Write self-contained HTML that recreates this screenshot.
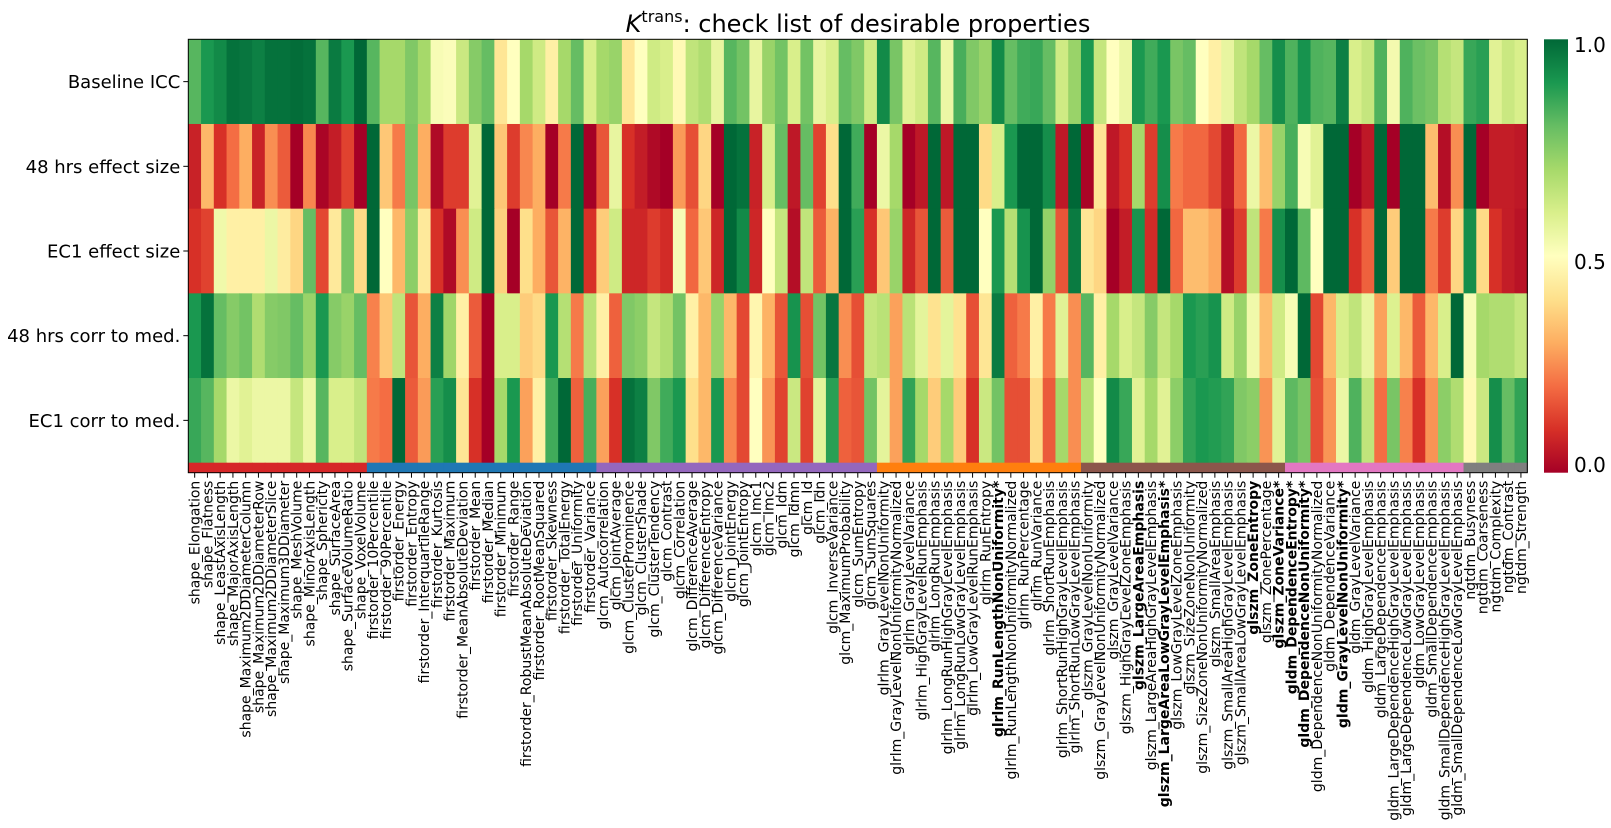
<!DOCTYPE html>
<html><head><meta charset="utf-8">
<style>
html,body{margin:0;padding:0;background:#fff;}
svg{display:block;font-family:"DejaVu Sans","Liberation Sans",sans-serif;}
</style></head>
<body>
<svg id="chart" width="1611" height="828" viewBox="0 0 1611 828" xmlns="http://www.w3.org/2000/svg">
<text x="858" y="32" font-size="24" text-anchor="middle"><tspan font-style="italic">K</tspan><tspan font-size="16" dy="-10">trans</tspan><tspan dy="10">: check list of desirable properties</tspan></text>
<g id="cells"></g>
<g id="strip"></g>
<g id="xlabels"></g>
<g id="ylabels"></g>
<rect x="188.3" y="39.3" width="1339" height="433.4" fill="none" stroke="#000" stroke-width="1"/>
<defs><linearGradient id="cbg" x1="0" y1="1" x2="0" y2="0"></linearGradient></defs>
<rect x="1544" y="39.3" width="24" height="433.4" fill="url(#cbg)"/>
<g font-size="20">
<text x="1574" y="52">1.0</text>
<text x="1574" y="269">0.5</text>
<text x="1574" y="472">0.0</text>
</g>
</svg>
<script>
const features = ["shape_Elongation","shape_Flatness","shape_LeastAxisLength","shape_MajorAxisLength","shape_Maximum2DDiameterColumn","shape_Maximum2DDiameterRow","shape_Maximum2DDiameterSlice","shape_Maximum3DDiameter","shape_MeshVolume","shape_MinorAxisLength","shape_Sphericity","shape_SurfaceArea","shape_SurfaceVolumeRatio","shape_VoxelVolume",
"firstorder_10Percentile","firstorder_90Percentile","firstorder_Energy","firstorder_Entropy","firstorder_InterquartileRange","firstorder_Kurtosis","firstorder_Maximum","firstorder_MeanAbsoluteDeviation","firstorder_Mean","firstorder_Median","firstorder_Minimum","firstorder_Range","firstorder_RobustMeanAbsoluteDeviation","firstorder_RootMeanSquared","firstorder_Skewness","firstorder_TotalEnergy","firstorder_Uniformity","firstorder_Variance",
"glcm_Autocorrelation","glcm_JointAverage","glcm_ClusterProminence","glcm_ClusterShade","glcm_ClusterTendency","glcm_Contrast","glcm_Correlation","glcm_DifferenceAverage","glcm_DifferenceEntropy","glcm_DifferenceVariance","glcm_JointEnergy","glcm_JointEntropy","glcm_Imc1","glcm_Imc2","glcm_Idm","glcm_Idmn","glcm_Id","glcm_Idn","glcm_InverseVariance","glcm_MaximumProbability","glcm_SumEntropy","glcm_SumSquares",
"glrlm_GrayLevelNonUniformity","glrlm_GrayLevelNonUniformityNormalized","glrlm_GrayLevelVariance","glrlm_HighGrayLevelRunEmphasis","glrlm_LongRunEmphasis","glrlm_LongRunHighGrayLevelEmphasis","glrlm_LongRunLowGrayLevelEmphasis","glrlm_LowGrayLevelRunEmphasis","glrlm_RunEntropy","glrlm_RunLengthNonUniformity*","glrlm_RunLengthNonUniformityNormalized","glrlm_RunPercentage","glrlm_RunVariance","glrlm_ShortRunEmphasis","glrlm_ShortRunHighGrayLevelEmphasis","glrlm_ShortRunLowGrayLevelEmphasis",
"glszm_GrayLevelNonUniformity","glszm_GrayLevelNonUniformityNormalized","glszm_GrayLevelVariance","glszm_HighGrayLevelZoneEmphasis","glszm_LargeAreaEmphasis","glszm_LargeAreaHighGrayLevelEmphasis","glszm_LargeAreaLowGrayLevelEmphasis*","glszm_LowGrayLevelZoneEmphasis","glszm_SizeZoneNonUniformity","glszm_SizeZoneNonUniformityNormalized","glszm_SmallAreaEmphasis","glszm_SmallAreaHighGrayLevelEmphasis","glszm_SmallAreaLowGrayLevelEmphasis","glszm_ZoneEntropy","glszm_ZonePercentage","glszm_ZoneVariance*",
"gldm_DependenceEntropy*","gldm_DependenceNonUniformity*","gldm_DependenceNonUniformityNormalized","gldm_DependenceVariance","gldm_GrayLevelNonUniformity*","gldm_GrayLevelVariance","gldm_HighGrayLevelEmphasis","gldm_LargeDependenceEmphasis","gldm_LargeDependenceHighGrayLevelEmphasis","gldm_LargeDependenceLowGrayLevelEmphasis","gldm_LowGrayLevelEmphasis","gldm_SmallDependenceEmphasis","gldm_SmallDependenceHighGrayLevelEmphasis","gldm_SmallDependenceLowGrayLevelEmphasis",
"ngtdm_Busyness","ngtdm_Coarseness","ngtdm_Complexity","ngtdm_Contrast","ngtdm_Strength"];
const boldFeatures = ["glrlm_RunLengthNonUniformity*","glszm_LargeAreaEmphasis","glszm_LargeAreaLowGrayLevelEmphasis*","glszm_ZoneEntropy","glszm_ZoneVariance*","gldm_DependenceEntropy*","gldm_DependenceNonUniformity*","gldm_GrayLevelNonUniformity*"];
const rowLabels = ["Baseline ICC","48 hrs effect size","EC1 effect size","48 hrs corr to med.","EC1 corr to med."];
const rowICC = [0.82,0.9,0.93,0.98,0.97,0.95,0.98,0.98,0.99,0.98,0.82,0.96,0.9,1.0,0.82,0.7,0.7,0.76,0.7,0.52,0.51,0.63,0.75,0.8,0.42,0.5,
0.7,0.62,0.45,0.7,0.8,0.6,0.7,0.72,0.42,0.5,0.62,0.6,0.48,0.65,0.68,0.56,0.82,0.78,0.56,0.72,0.78,0.6,0.78,0.56,0.6,
0.8,0.76,0.62,0.93,0.77,0.58,0.62,0.82,0.55,0.84,0.76,0.72,0.93,0.8,0.85,0.86,0.8,0.62,0.72,0.9,0.64,0.5,0.55,0.9,0.85,
0.9,0.77,0.8,0.5,0.45,0.56,0.65,0.7,0.8,0.92,0.83,0.91,0.83,0.82,0.95,0.6,0.64,0.83,0.53,0.83,0.79,0.77,0.67,0.64,0.86,0.88,0.58,0.63,0.6];
const row48Effect = [0.07,0.32,0.1,0.2,0.3,0.07,0.25,0.17,0.0,0.24,0.01,0.06,0.13,0.0,1.0,0.35,0.22,0.77,0.3,0.02,0.12,0.12,0.58,1.0,0.35,0.12,
0.24,0.3,0.0,0.22,1.0,0.0,0.16,0.56,0.1,0.06,0.02,0.0,0.27,0.15,0.38,0.0,1.0,0.98,0.07,0.6,0.8,0.05,0.8,0.13,0.4,
1.0,0.85,0.0,0.55,0.7,0.0,0.05,1.0,0.05,1.0,1.0,0.39,0.6,0.9,1.0,1.0,0.92,0.05,1.0,0.01,0.42,0.05,0.1,0.7,0.12,
0.92,0.22,0.19,0.19,0.14,0.05,0.19,0.55,0.33,0.72,0.84,0.52,0.58,1,1,0,0.05,1,0,1,1,0.33,0.03,0.25,1,0,0.06,0.06,0.05];
const rowEC1Effect = [0.1,0.13,0.54,0.45,0.45,0.45,0.55,0.44,0.38,0.8,0.14,0.43,0.77,0.39,1.0,0.5,0.32,0.74,0.43,0.1,0.02,0.25,0.62,1.0,0.37,0.0,
0.4,0.3,0.16,0.31,1.0,0.1,0.36,0.62,0.08,0.08,0.12,0.09,0.52,0.19,0.35,0.08,1.0,0.93,0.08,0.5,0.64,0.03,0.65,0.17,0.31,
1.0,0.88,0.1,0.35,0.72,0.08,0.16,1.0,0.17,1.0,1.0,0.5,0.9,0.67,0.91,1.0,0.73,0.16,0.96,0.42,0.38,0.0,0.06,0.91,0.09,
1.0,0.19,0.33,0.33,0.29,0.03,0.12,0.65,0.22,0.92,1.0,0.81,0.5,1,1,0.1,0.18,1,0.36,1,1,0.22,0.12,0.38,0.92,0.39,0.1,0.06,0.04];
const row48Corr = [0.9,0.98,0.8,0.75,0.78,0.68,0.75,0.76,0.8,0.72,0.9,0.75,0.72,0.8,0.23,0.35,0.65,0.16,0.3,0.95,0.71,0.45,0.17,0.0,0.6,0.6,
0.36,0.39,0.9,0.67,0.22,0.66,0.45,0.18,0.76,0.74,0.64,0.68,0.78,0.45,0.32,0.72,0.32,0.14,0.47,0.31,0.16,0.91,0.15,0.78,0.97,
0.25,0.15,0.64,0.66,0.28,0.66,0.57,0.41,0.57,0.41,0.15,0.42,0.96,0.18,0.22,0.45,0.22,0.58,0.25,0.82,0.45,0.7,0.6,0.64,0.75,
0.64,0.7,0.9,0.88,0.91,0.62,0.72,0.54,0.33,0.62,0.52,1.0,0.14,0.32,0.6,0.65,0.56,0.28,0.59,0.32,0.17,0.32,0.6,1.0,0.52,0.7,0.68,0.68,0.64];
const rowEC1Corr = [0.86,0.82,0.7,0.55,0.58,0.55,0.55,0.55,0.64,0.55,0.82,0.6,0.6,0.65,0.22,0.2,1.0,0.17,0.27,0.88,0.92,0.42,0.1,0.0,0.7,0.9,
0.28,0.45,0.85,1.0,0.18,0.84,0.28,0.1,0.98,0.95,0.76,0.85,0.9,0.4,0.32,0.9,0.24,0.14,0.5,0.26,0.13,0.63,0.13,0.57,0.88,
0.18,0.16,0.78,0.57,0.28,0.87,0.7,0.36,0.7,0.36,0.1,0.63,0.78,0.15,0.15,0.39,0.17,0.7,0.25,0.67,0.5,0.93,0.86,0.58,0.7,
0.58,0.74,0.87,0.9,0.89,0.87,0.76,0.74,0.26,0.58,0.81,0.77,0.15,0.26,0.55,0.83,0.65,0.2,0.77,0.23,0.1,0.26,0.74,0.68,0.48,0.63,0.92,0.8,0.87];
const rows = [rowICC,row48Effect,rowEC1Effect,row48Corr,rowEC1Corr];
const groupNames = ["shape","firstorder","glcm","glrlm","glszm","gldm","ngtdm"];
const groupColors = ["#d62728","#1f77b4","#9467bd","#ff7f0e","#8c564b","#e377c2","#7f7f7f"];

const stops = ["#a50026","#d73027","#f46d43","#fdae61","#fee08b","#ffffbf","#d9ef8b","#a6d96a","#66bd63","#1a9850","#006837"];
function hex(c){return [1,3,5].map(i=>parseInt(c.substr(i,2),16));}
function cmap(v){v=Math.max(0,Math.min(1,v));const p=v*10;const i=Math.min(9,Math.floor(p));const t=p-i;
 const a=hex(stops[i]),b=hex(stops[i+1]);return "rgb("+a.map((x,k)=>Math.round(x+(b[k]-x)*t)).join(",")+")";}

const X0=188.3,X1=1527.3,Y0=39.3,Y1=462.7,STRIP=10;
const nC=features.length,nR=rows.length;
const cw=(X1-X0)/nC,rh=(Y1-Y0)/nR;
const xPos=i=>X0+i*cw;
const yPos=j=>Y0+j*rh;
const NS="http://www.w3.org/2000/svg";
const cells=document.getElementById('cells');
rows.forEach((r,j)=>{r.forEach((v,i)=>{
 const el=document.createElementNS(NS,'rect');
 el.setAttribute('x',xPos(i));el.setAttribute('y',yPos(j));
 el.setAttribute('width',cw+0.6);el.setAttribute('height',rh+0.6);
 el.setAttribute('fill',cmap(v));
 
 
 cells.appendChild(el);});});
const strip=document.getElementById('strip');
const xl=document.getElementById('xlabels');
features.forEach((f,i)=>{
 const g=groupNames.indexOf(f.split('_')[0]);
 const s=document.createElementNS(NS,'rect');
 s.setAttribute('x',xPos(i));s.setAttribute('y',Y1);s.setAttribute('width',cw+0.6);s.setAttribute('height',STRIP);
 s.setAttribute('fill',groupColors[g]);
 
 
 strip.appendChild(s);
 const cx=xPos(i)+cw/2;
 const tk=document.createElementNS(NS,'line');
 tk.setAttribute('x1',cx);tk.setAttribute('x2',cx);tk.setAttribute('y1',Y1+STRIP);tk.setAttribute('y2',Y1+STRIP+5);tk.setAttribute('stroke','#000');
 
 
 xl.appendChild(tk);
 const t=document.createElementNS(NS,'text');
 t.setAttribute('transform','translate('+(cx+5)+','+(Y1+STRIP+8)+') rotate(-90)');
 t.setAttribute('text-anchor','end');t.setAttribute('font-size','14');
 if(boldFeatures.includes(f))t.setAttribute('font-weight','bold');
 t.textContent=f;
 
 
 xl.appendChild(t);});
const yl=document.getElementById('ylabels');
rowLabels.forEach((l,j)=>{
 const cy=yPos(j)+rh/2;
 const tk=document.createElementNS(NS,'line');
 tk.setAttribute('x1',X0-5);tk.setAttribute('x2',X0);tk.setAttribute('y1',cy);tk.setAttribute('y2',cy);tk.setAttribute('stroke','#000');
 
 
 yl.appendChild(tk);
 const t=document.createElementNS(NS,'text');
 t.setAttribute('x',X0-8);t.setAttribute('y',cy+6.5);t.setAttribute('text-anchor','end');t.setAttribute('font-size','18');
 t.textContent=l;
 
 
 yl.appendChild(t);});
const grad=document.getElementById('cbg');
stops.forEach((c,k)=>{const s=document.createElementNS(NS,'stop');s.setAttribute('offset',(k/10));s.setAttribute('stop-color',c);grad.appendChild(s);});
</script>
</body></html>
